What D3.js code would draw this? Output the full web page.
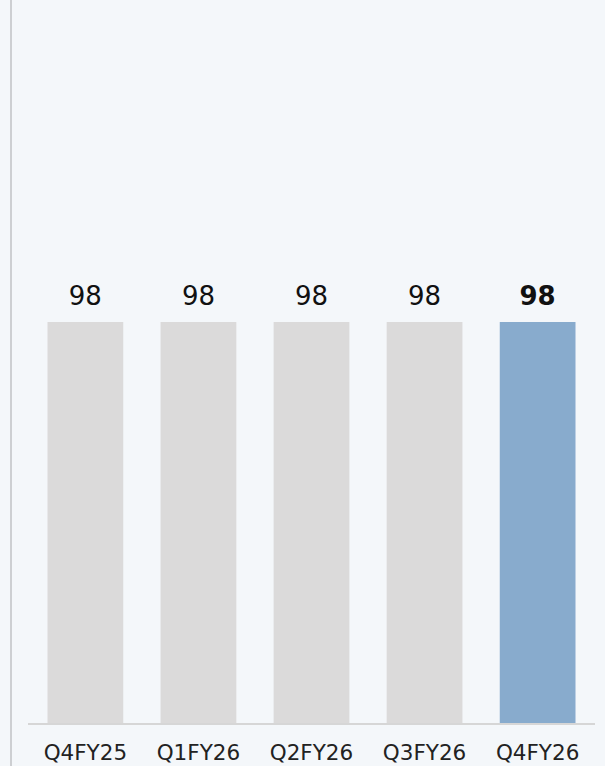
<!DOCTYPE html>
<html><head><meta charset="utf-8">
<script src="https://cdn.jsdelivr.net/npm/d3@7"></script>
<style>
html,body{margin:0;padding:0;background:#f4f7fa;}
svg{display:block;}
</style></head>
<body>
<script>
const categories = ["Q4FY25","Q1FY26","Q2FY26","Q3FY26","Q4FY26"];
const values = [98, 98, 98, 98, 98];
const highlight = [false, false, false, false, true];

const W = 605, H = 766;
const svg = d3.select("body").append("svg").attr("width", W).attr("height", H);
svg.append("rect").attr("width", W).attr("height", H).attr("fill", "#f4f7fa");

// left vertical rule
svg.append("line").attr("x1", 11).attr("x2", 11).attr("y1", 0).attr("y2", H)
  .attr("stroke", "#cdcfd2").attr("stroke-width", 2);

const x = d3.scaleBand().domain(categories).range([28.5, 594.5])
  .paddingInner(0.33).paddingOuter(0.168);
const y = d3.scaleLinear().domain([0, 176.5]).range([724, 0]);

svg.selectAll("rect.bar").data(values).join("rect").attr("class","bar")
  .attr("x", (d,i) => x(categories[i]))
  .attr("width", x.bandwidth())
  .attr("y", d => y(d))
  .attr("height", d => y(0) - y(d))
  .attr("fill", (d,i) => highlight[i] ? "#88abcd" : "#dbdada");

// baseline
svg.append("line").attr("x1", 28).attr("x2", 595).attr("y1", 724).attr("y2", 724)
  .attr("stroke", "#d6d6d6").attr("stroke-width", 2);

svg.selectAll("text.val").data(values).join("text").attr("class","val")
  .attr("x", (d,i) => x(categories[i]) + x.bandwidth()/2)
  .attr("y", d => y(d) - 17)
  .attr("text-anchor", "middle")
  .attr("font-family", "'DejaVu Sans', sans-serif")
  .attr("font-size", 26)
  .attr("font-weight", (d,i) => highlight[i] ? "bold" : "normal")
  .attr("fill", "#111")
  .text(d => d);

const xAxis = svg.append("g").attr("transform", "translate(0,724)")
  .call(d3.axisBottom(x).tickSize(0));
xAxis.select(".domain").remove();
xAxis.selectAll("text")
  .attr("y", 35.5)
  .attr("dy", null)
  .attr("font-family", "'DejaVu Sans', sans-serif")
  .attr("font-size", 21.5)
  .attr("fill", "#222");
</script>
</body></html>
